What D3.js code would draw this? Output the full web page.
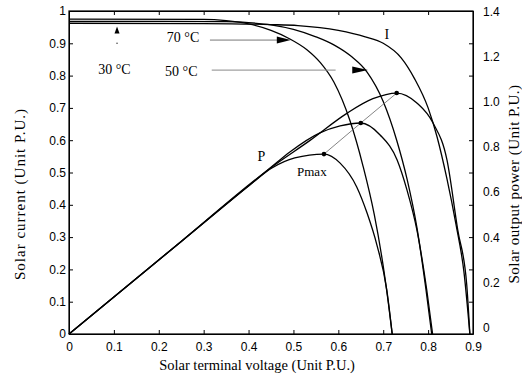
<!DOCTYPE html>
<html>
<head>
<meta charset="utf-8">
<script src="https://cdn.jsdelivr.net/npm/d3@7"></script>
<style>
  body { margin: 0; background: #fff; }
  svg { display: block; }
  .tick text { font-family: "Liberation Sans", Arial, sans-serif; font-size: 12px; fill: #000; }
  .serif { font-family: "Liberation Serif", "Times New Roman", serif; fill: #000; }
</style>
</head>
<body>
<div id="visualization"></div>
<script>
// tick values / labels
var voltTicks = [0, 0.1, 0.2, 0.3, 0.4, 0.5, 0.6, 0.7, 0.8, 0.9];
var currentTicks = [0, 0.1, 0.2, 0.3, 0.4, 0.5, 0.6, 0.7, 0.8, 0.9, 1];
var powerTicks = [0, 0.2, 0.4, 0.6, 0.8, 1.0, 1.2, 1.4];
var powerTickLabels = ["0", "0.2", "0.4", "0.6", "0.8", "1.0", "1.2", "1.4"];

var temps = ["30 °C", "50 °C", "70 °C"];

// I-V curves [voltage, current]
var current30 = [[0, 0.962], [0.3, 0.961], [0.45, 0.958], [0.51, 0.955], [0.6, 0.94], [0.66, 0.92],
  [0.7, 0.9], [0.74, 0.855], [0.77, 0.79], [0.8, 0.7], [0.82, 0.61], [0.842, 0.48],
  [0.862, 0.34], [0.88, 0.19], [0.893, 0]];
var current50 = [[0, 0.968], [0.35, 0.967], [0.4, 0.964], [0.45, 0.957], [0.5, 0.943], [0.55, 0.92],
  [0.59, 0.895], [0.63, 0.858], [0.664, 0.811], [0.7, 0.72], [0.73, 0.6], [0.753, 0.48],
  [0.775, 0.33], [0.795, 0.14], [0.808, 0]];
var current70 = [[0, 0.975], [0.3, 0.974], [0.35, 0.97], [0.4, 0.96], [0.45, 0.94], [0.49, 0.915],
  [0.53, 0.88], [0.56, 0.84], [0.59, 0.78], [0.626, 0.66], [0.655, 0.52], [0.68, 0.37],
  [0.7, 0.21], [0.712, 0.09], [0.72, 0]];

// P-V curves [voltage, power] read against the right axis
var power30 = [[0, -0.03], [0.25, 0.381], [0.452, 0.712], [0.537, 0.83], [0.619, 0.95], [0.677, 1.015],
  [0.73, 1.04], [0.775, 0.996], [0.811, 0.907], [0.842, 0.743], [0.866, 0.432],
  [0.886, 0.19], [0.893, -0.03]];
var power50 = [[0, -0.03], [0.25, 0.381], [0.45, 0.71], [0.492, 0.778], [0.559, 0.863], [0.604, 0.894],
  [0.65, 0.907], [0.693, 0.854], [0.731, 0.743], [0.753, 0.609], [0.775, 0.432],
  [0.797, 0.165], [0.81, -0.03]];
var power70 = [[0, -0.03], [0.25, 0.381], [0.403, 0.632], [0.452, 0.707], [0.503, 0.752], [0.568, 0.769],
  [0.604, 0.729], [0.641, 0.623], [0.664, 0.507], [0.686, 0.365], [0.708, 0.165],
  [0.72, -0.03]];

// maximum power points
var pmaxPoints = [[0.568, 0.769], [0.65, 0.907], [0.73, 1.04]];

drawChart();

function drawChart() {
    d3.select("#visualization").html("");

    var W = 522, H = 377;
    var margin = { top: 11, right: 49, bottom: 43, left: 69 };
    var w = W - margin.left - margin.right;
    var h = H - margin.top - margin.bottom;

    var svg = d3.select("#visualization").append("svg")
        .attr("width", W)
        .attr("height", H);

    var g = svg.append("g").attr("transform", "translate(" + margin.left + "," + margin.top + ")");

    var x = d3.scaleLinear().domain([0, 0.9]).range([0, w]);
    var y = d3.scaleLinear().domain([0, 1]).range([h, 0]);
    var yP = d3.scaleLinear().domain([-0.03, 1.4]).range([h, 1]);

    var fmt = function (d) { return d === 0 ? "0" : (d === 1 ? "1" : d3.format(".1f")(d)); };

    // axes (ticks point inwards)
    g.append("g").attr("transform", "translate(0," + h + ")")
        .call(d3.axisBottom(x).tickValues(voltTicks).tickFormat(fmt).tickSizeInner(-4).tickSizeOuter(0).tickPadding(8));
    g.append("g")
        .call(d3.axisLeft(y).tickValues(currentTicks).tickFormat(fmt).tickSizeInner(-4).tickSizeOuter(0).tickPadding(3));
    g.append("g")
        .call(d3.axisTop(x).tickValues(voltTicks).tickFormat("").tickSizeInner(-4).tickSizeOuter(0));
    g.append("g").attr("transform", "translate(" + w + ",0)")
        .call(d3.axisRight(y).tickValues(currentTicks).tickFormat("").tickSizeInner(-4).tickSizeOuter(0));
    g.append("g").attr("transform", "translate(" + w + ",0)")
        .call(d3.axisRight(yP).tickValues(powerTicks).tickFormat(function (d, i) { return powerTickLabels[i]; })
            .tickSize(0).tickPadding(10))
        .select(".domain").remove();

    g.selectAll(".domain").attr("stroke", "#000");
    g.selectAll(".tick line").attr("stroke", "#000");

    // frame
    g.append("rect").attr("width", w).attr("height", h)
        .attr("fill", "none").attr("stroke", "#000").attr("stroke-width", 1.2);

    var lineI = d3.line().x(d => x(d[0])).y(d => y(d[1])).curve(d3.curveMonotoneX);
    var lineP = d3.line().x(d => x(d[0])).y(d => yP(d[1])).curve(d3.curveMonotoneX);

    [current30, current50, current70].forEach(function (s) {
        g.append("path").attr("d", lineI(s))
            .attr("fill", "none").attr("stroke", "#000").attr("stroke-width", 1.3);
    });
    [power30, power50, power70].forEach(function (s) {
        g.append("path").attr("d", lineP(s))
            .attr("fill", "none").attr("stroke", "#000").attr("stroke-width", 1.3);
    });

    // Pmax locus
    g.append("path").attr("d", d3.line().x(d => x(d[0])).y(d => yP(d[1]))(pmaxPoints))
        .attr("fill", "none").attr("stroke", "#666").attr("stroke-width", 0.8);
    g.selectAll(".pmax").data(pmaxPoints).enter().append("circle")
        .attr("cx", d => x(d[0])).attr("cy", d => yP(d[1])).attr("r", 2.3).attr("fill", "#000");

    // temperature labels with pointer lines
    var labels = g.append("g").attr("class", "serif").attr("font-size", 14);
    labels.append("text").attr("x", x(0.065)).attr("y", y(0.805)).text(temps[0]);
    labels.append("text").attr("x", x(0.214)).attr("y", y(0.80)).text(temps[1]);
    labels.append("text").attr("x", x(0.218)).attr("y", y(0.903)).text(temps[2]);

    // 30 °C: upward arrow
    g.append("path")
        .attr("d", "M" + x(0.107) + "," + y(0.952) + "L" + (x(0.107) - 2.5) + "," + y(0.93) + "L" + (x(0.107) + 2.5) + "," + y(0.93) + "Z")
        .attr("fill", "#000");
    g.append("circle").attr("cx", x(0.107)).attr("cy", y(0.9)).attr("r", 0.8).attr("fill", "#444");

    // 70 °C pointer
    g.append("line").attr("x1", x(0.314)).attr("x2", x(0.465)).attr("y1", y(0.91)).attr("y2", y(0.91))
        .attr("stroke", "#777").attr("stroke-width", 1);
    g.append("path")
        .attr("d", "M" + x(0.494) + "," + y(0.91) + "L" + x(0.463) + "," + (y(0.91) - 3.5) + "L" + x(0.463) + "," + (y(0.91) + 3.5) + "Z")
        .attr("fill", "#000");
    // 50 °C pointer
    g.append("line").attr("x1", x(0.318)).attr("x2", x(0.594)).attr("y1", y(0.817)).attr("y2", y(0.817))
        .attr("stroke", "#888").attr("stroke-width", 1);
    g.append("path")
        .attr("d", "M" + x(0.666) + "," + y(0.817) + "L" + x(0.631) + "," + (y(0.817) - 3.5) + "L" + x(0.631) + "," + (y(0.817) + 3.5) + "Z")
        .attr("fill", "#000");

    // curve labels
    labels.append("text").attr("x", x(0.708)).attr("y", y(0.913)).attr("text-anchor", "middle").text("I");
    labels.append("text").attr("x", x(0.42)).attr("y", y(0.535)).text("P");
    labels.append("text").attr("x", x(0.508)).attr("y", y(0.489)).attr("font-size", 13).text("Pmax");

    // axis titles
    svg.append("text").attr("class", "serif").attr("font-size", 14.5)
        .attr("x", 257).attr("y", 370).attr("text-anchor", "middle")
        .text("Solar terminal voltage (Unit P.U.)");
    svg.append("text").attr("class", "serif").attr("font-size", 15).attr("letter-spacing", 1)
        .attr("transform", "translate(25,194) rotate(-90)").attr("text-anchor", "middle")
        .text("Solar current (Unit P.U.)");
    svg.append("text").attr("class", "serif").attr("font-size", 15).attr("letter-spacing", 0.5)
        .attr("transform", "translate(519,184) rotate(-90)").attr("text-anchor", "middle")
        .text("Solar output power (Unit P.U.)");
}
</script>
</body>
</html>
